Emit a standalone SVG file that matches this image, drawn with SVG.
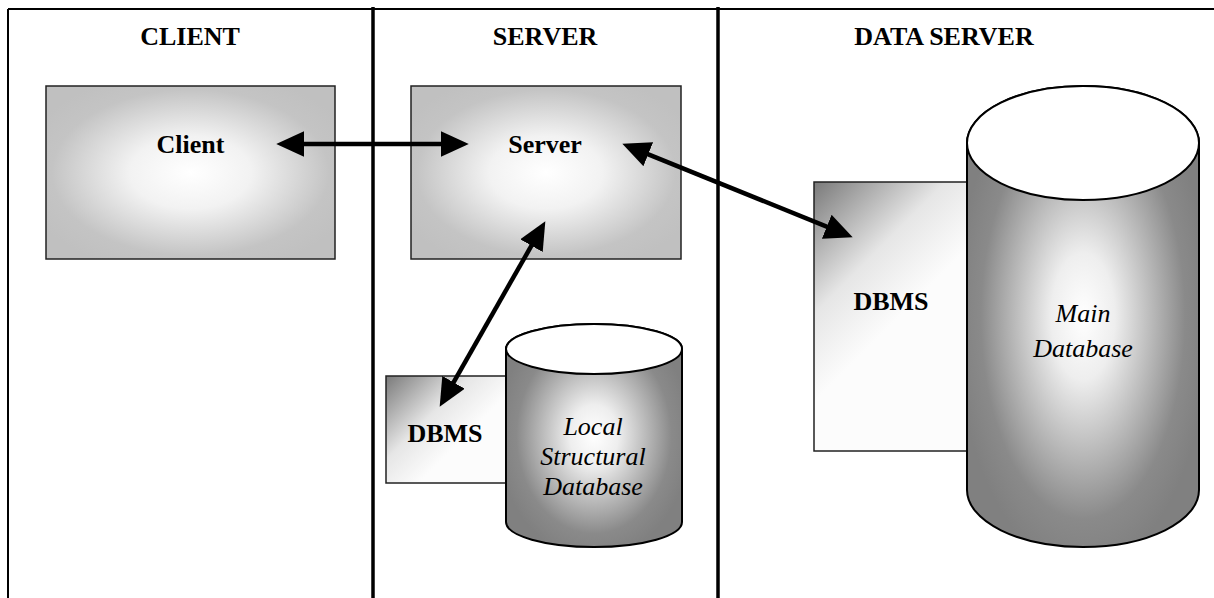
<svg xmlns="http://www.w3.org/2000/svg" width="1214" height="598" viewBox="0 0 1214 598">
<style>
.frame{stroke:#000;stroke-width:2;fill:none}
.div{stroke:#000;stroke-width:3.5;fill:none}
.hdr{font-family:"Liberation Serif","Times New Roman",serif;font-weight:bold;font-size:26px;text-anchor:middle;fill:#000}
.lbl{font-family:"Liberation Serif","Times New Roman",serif;font-weight:bold;font-size:26px;text-anchor:middle;fill:#000}
.ital{font-family:"Liberation Serif","Times New Roman",serif;font-style:italic;font-size:26px;text-anchor:middle;fill:#000}
.box{fill:url(#boxGrad);stroke:#222;stroke-width:1.5}
.dbms{stroke:#222;stroke-width:1.5}
.cylbody{fill:url(#cylGrad);stroke:#000;stroke-width:2}
.cyltop{fill:#fff;stroke:#000;stroke-width:2}
.conn{stroke:#000;stroke-width:4.5;fill:none;marker-start:url(#ah);marker-end:url(#ah)}
</style>
<defs>
<radialGradient id="boxGrad" cx="0.5" cy="0.5" r="0.6">
<stop offset="0" stop-color="#ffffff"/>
<stop offset="0.35" stop-color="#f2f2f2"/>
<stop offset="0.8" stop-color="#c4c4c4"/>
<stop offset="1" stop-color="#c0c0c0"/>
</radialGradient>
<radialGradient id="cylGrad" cx="0.5" cy="0.5" r="0.55">
<stop offset="0" stop-color="#ffffff"/>
<stop offset="0.25" stop-color="#eeeeee"/>
<stop offset="0.8" stop-color="#8a8a8a"/>
<stop offset="1" stop-color="#808080"/>
</radialGradient>
<linearGradient id="dbmsGradMain" gradientUnits="userSpaceOnUse" x1="814" y1="182" x2="924" y2="292">
<stop offset="0" stop-color="#7a7a7a"/>
<stop offset="0.6" stop-color="#e6e6e6"/>
<stop offset="1" stop-color="#fcfcfc"/>
</linearGradient>
<linearGradient id="dbmsGradLocal" gradientUnits="userSpaceOnUse" x1="386" y1="376" x2="456" y2="446">
<stop offset="0" stop-color="#7a7a7a"/>
<stop offset="0.6" stop-color="#e6e6e6"/>
<stop offset="1" stop-color="#fcfcfc"/>
</linearGradient>
<marker id="ah" markerUnits="userSpaceOnUse" markerWidth="28" markerHeight="26" viewBox="0 0 26 24" refX="16" refY="12" orient="auto-start-reverse">
<path d="M0,0 L26,12 L0,24 Z" fill="#000"/>
</marker>
</defs>

<g id="frame">
<line class="frame" x1="8" y1="9" x2="1214" y2="9"/>
<line class="frame" x1="8" y1="9" x2="8" y2="598"/>
<line class="div" x1="373" y1="7" x2="373" y2="598"/>
<line class="div" x1="718" y1="7" x2="718" y2="598"/>
<text class="hdr" x="190" y="45">CLIENT</text>
<text class="hdr" x="545" y="45">SERVER</text>
<text class="hdr" x="944" y="45">DATA SERVER</text>
</g>

<g id="client">
<rect class="box" x="46" y="86" width="289" height="173"/>
<text class="lbl" x="190.5" y="153">Client</text>
</g>

<g id="server">
<rect class="box" x="411" y="86" width="270" height="173"/>
<text class="lbl" x="545" y="153">Server</text>
</g>

<g id="local-dbms">
<rect class="dbms" fill="url(#dbmsGradLocal)" x="386" y="376" width="124" height="107"/>
<text class="lbl" x="445" y="442">DBMS</text>
</g>

<g id="local-db">
<path class="cylbody" d="M506,349 L506,522 A88,25 0 0 0 682,522 L682,349 A88,25 0 0 0 506,349 Z"/>
<ellipse class="cyltop" cx="594" cy="349" rx="88" ry="25"/>
<text class="ital" x="593" y="435">Local</text>
<text class="ital" x="593" y="465">Structural</text>
<text class="ital" x="593" y="495">Database</text>
</g>

<g id="main-dbms">
<rect class="dbms" fill="url(#dbmsGradMain)" x="814" y="182" width="158" height="269"/>
<text class="lbl" x="891" y="310">DBMS</text>
</g>

<g id="main-db">
<path class="cylbody" d="M967,143 L967,490 A116,57 0 0 0 1199,490 L1199,143 A116,57 0 0 0 967,143 Z"/>
<ellipse class="cyltop" cx="1083" cy="143" rx="116" ry="57"/>
<text class="ital" x="1083" y="322">Main</text>
<text class="ital" x="1083" y="357">Database</text>
</g>

<g id="connectors">
<line class="conn" x1="287" y1="144" x2="458" y2="144"/>
<line class="conn" x1="632.3" y1="147.8" x2="842.7" y2="233.2"/>
<line class="conn" x1="540" y1="230.7" x2="445" y2="397.3"/>
</g>
</svg>
